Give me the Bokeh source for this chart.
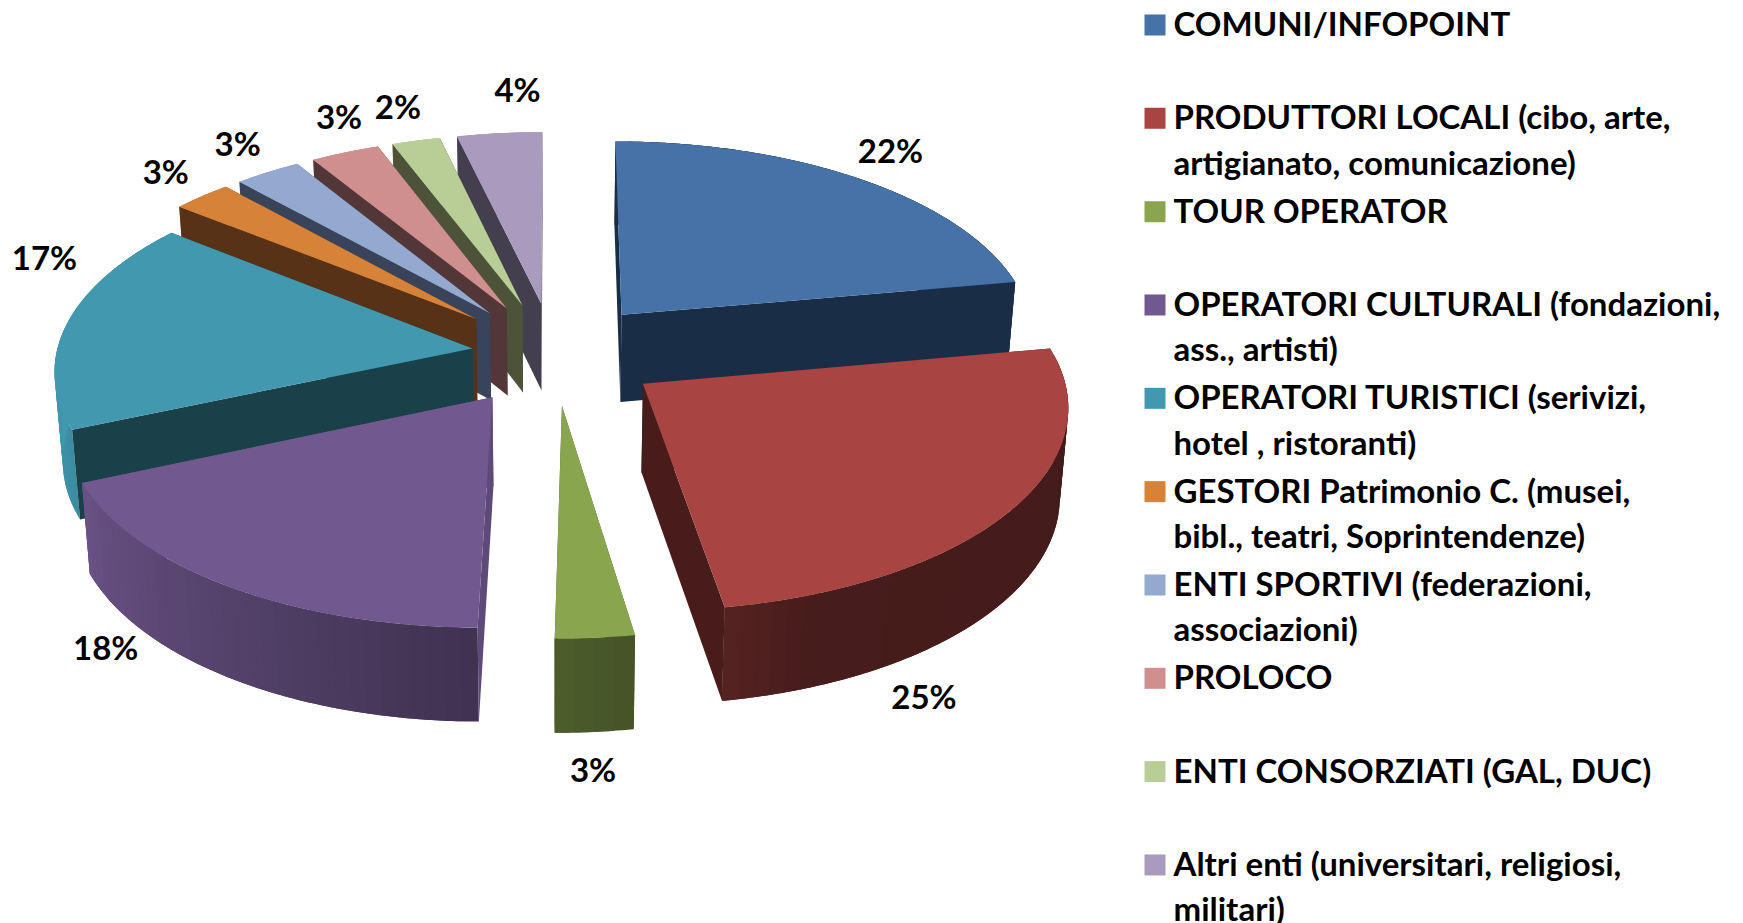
import numpy as np
from bokeh.plotting import figure
from bokeh.models import Range1d, ColumnDataSource
from bokeh.core.properties import value
from bokeh.embed import file_html
from bokeh.resources import INLINE

# ---- data ----
shares = [22.2, 25.2, 2.7, 18.4, 17.2, 2.6, 2.9, 3.0, 2.1, 3.7]
legend_labels = [
    ["COMUNI/INFOPOINT"],
    ["PRODUTTORI LOCALI (cibo, arte,", "artigianato, comunicazione)"],
    ["TOUR OPERATOR"],
    ["OPERATORI CULTURALI (fondazioni,", "ass., artisti)"],
    ["OPERATORI TURISTICI (serivizi,", "hotel , ristoranti)"],
    ["GESTORI Patrimonio C. (musei,", "bibl., teatri, Soprintendenze)"],
    ["ENTI SPORTIVI (federazioni,", "associazioni)"],
    ["PROLOCO"],
    ["ENTI CONSORZIATI (GAL, DUC)"],
    ["Altri enti (universitari, religiosi,", "militari)"],
]
# ---- styles ----
top_colors = ["#4672A8", "#A84442", "#89A54E", "#71588F", "#4198AF",
              "#D78239", "#93A9CF", "#CF8F8F", "#B9CD96", "#A99BBD"]
wall_colors = ["#1A2D46", "#481C1A", "#4C5A2A", "#5E4A7A", "#1A404A",
               "#573217", "#39445A", "#533738", "#4C5339", "#443F4E"]
explode = [108, 108, 108, 108, 82, 108, 108, 108, 108, 108]
paint_order = [9, 8, 7, 6, 5, 4, 0, 1, 3, 2]
label_nudge = [(30, -29), (-89, 187), (-2, 131), (-121, 61), (-23, -66),
               (-36, -25), (-30, -29), (-6, -37), (-18, -35), (18, -44)]
shade_angles = [90, 160, 170, 180, 245, 270]
shade_levels = [0.40, 0.42, 0.50, 0.56, 0.92, 1.0]
FONT = "Lato"
FONT_PX = 33

# ---- projection of the tilted pie ----
CX, CY, RADIUS, TILT, PERSP, DEPTH = 553, 353, 416, 0.476, 0.00024, 88


def project(wx, wy, z=0.0):
    s = 1 / (1 - PERSP * wy)
    x = CX + wx * s - 2.0e-5 * np.maximum(wy, 0) ** 2
    y = CY + TILT * wy * s
    if z:
        x = x - (x - CX) * 0.0165 * z
        y = y + DEPTH * np.sqrt(s) * z
    return x, y


def world(cum_deg, r, off):
    a = np.radians(cum_deg)
    return off[0] + r * np.sin(a), off[1] - r * np.cos(a)


def shade(hex_color, f):
    c = [int(hex_color[i:i + 2], 16) for i in (1, 3, 5)]
    return "#%02X%02X%02X" % tuple(int(round(v * f)) for v in c)


total = sum(shares)
edges = np.cumsum([0] + shares) / total * 360.0

xs, ys, fills = [], [], []


def add(px, py, col):
    xs.append(list(map(float, px)))
    ys.append(list(map(float, py)))
    fills.append(col)


for i in paint_order:
    a0, a1 = edges[i], edges[i + 1]
    mid_deg = (a0 + a1) / 2
    mid = np.radians(mid_deg)
    off = (explode[i] * np.sin(mid), -explode[i] * np.cos(mid))
    ax, ay = project(off[0], off[1])
    bx, by = project(off[0], off[1], 1)

    def radial_wall(ang):
        wx, wy = world(ang, RADIUS, off)
        tx, ty = project(wx, wy)
        dx, dy = project(wx, wy, 1)
        add([ax, tx, dx, bx], [ay, ty, dy, by], wall_colors[i])

    hidden_edge, visible_edge = (a0, a1) if mid_deg < 180 else (a1, a0)
    radial_wall(hidden_edge)
    # curved outer wall: each shaded strip overlaps the next one, so no seams show
    n = max(3, int((a1 - a0) / 2.0))
    angs = np.linspace(a0, a1, n + 1)
    for j in range(n):
        arc = np.linspace(angs[j], angs[min(j + 2, n)], 8)
        wx, wy = world(arc, RADIUS, off)
        tx, ty = project(wx, wy)
        dx, dy = project(wx, wy, 1)
        f = float(np.interp((angs[j] + angs[j + 1]) / 2, shade_angles, shade_levels))
        add(np.r_[tx, dx[::-1]], np.r_[ty, dy[::-1]], shade(top_colors[i], f))
    radial_wall(visible_edge)
    # top face
    arc = np.linspace(a0, a1, max(8, int((a1 - a0) * 2)))
    wx, wy = world(arc, RADIUS, off)
    tx, ty = project(wx, wy)
    add(np.r_[ax, tx], np.r_[ay, ty], top_colors[i])

p = figure(width=1743, height=923, output_backend="svg", toolbar_location=None,
           x_range=Range1d(0, 1743), y_range=Range1d(923, 0), min_border=0)
p.axis.visible = False
p.grid.visible = False
p.outline_line_color = None
p.background_fill_color = "white"

p.patches("x", "y", fill_color="c", line_color=None,
          source=ColumnDataSource(dict(x=xs, y=ys, c=fills)))

# percentage labels
lx, ly, lt = [], [], []
for i, v in enumerate(shares):
    m = (edges[i] + edges[i + 1]) / 2
    rad = np.radians(m)
    off = (explode[i] * np.sin(rad), -explode[i] * np.cos(rad))
    x0, y0 = project(*world(m, RADIUS, off))
    lx.append(float(x0 + label_nudge[i][0]))
    ly.append(float(y0 + label_nudge[i][1]))
    lt.append(f"{v:.0f}%")
p.text(lx, ly, text=lt, text_font=value(FONT), text_font_style="bold",
       text_font_size=f"{FONT_PX}px", text_align="center", text_baseline="middle",
       text_color="black")

# legend
LEG_X, LEG_Y, LEG_PITCH, LEG_BOX, LEG_TEXT_X, LINE_GAP = 1144, 14, 93.33, 21, 1173, 45.5
rows = np.arange(len(shares))
tops = LEG_Y + rows * LEG_PITCH
p.quad(left=LEG_X, right=LEG_X + LEG_BOX, top=tops, bottom=tops + LEG_BOX,
       fill_color=top_colors, line_color=None)
tx, ty, tt = [], [], []
for i, lines in enumerate(legend_labels):
    for k, line in enumerate(lines):
        tx.append(LEG_TEXT_X)
        ty.append(float(tops[i] + 8.5 + k * LINE_GAP))
        tt.append(line)
p.text(tx, ty, text=tt, text_font=value(FONT), text_font_style="bold",
       text_font_size=f"{FONT_PX}px", text_align="left", text_baseline="middle",
       text_color="black")

open("out.html", "w").write(file_html(p, INLINE))
